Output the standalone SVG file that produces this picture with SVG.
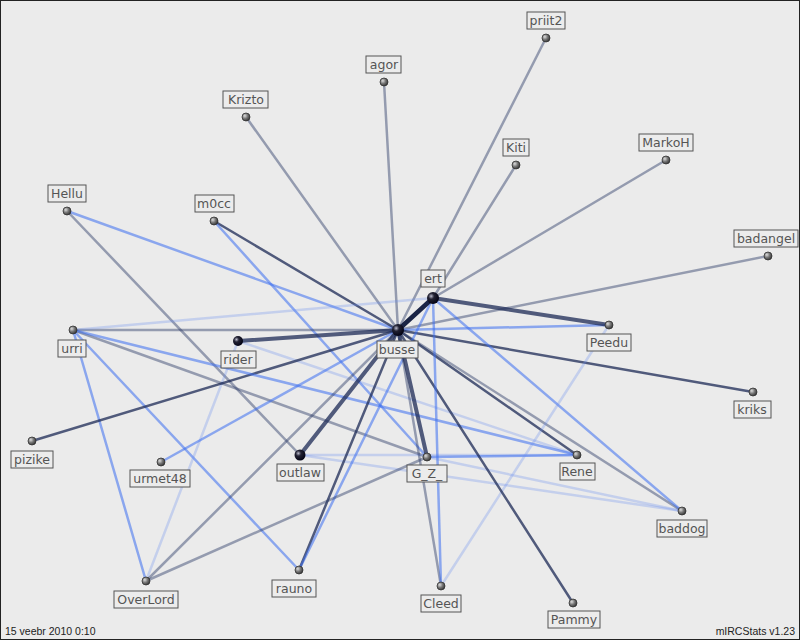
<svg xmlns="http://www.w3.org/2000/svg" width="800" height="640" viewBox="0 0 800 640">
<defs>
<radialGradient id="gn" cx="0.35" cy="0.35" r="0.7"><stop offset="0" stop-color="#ddd"/><stop offset="0.5" stop-color="#777"/><stop offset="1" stop-color="#333"/></radialGradient>
<radialGradient id="gb" cx="0.35" cy="0.35" r="0.7"><stop offset="0" stop-color="#bbc"/><stop offset="0.35" stop-color="#223"/><stop offset="1" stop-color="#001"/></radialGradient>
</defs>
<style>
.e{fill:none;stroke-linecap:round}
.d{stroke:#1c2a55;stroke-width:2.5;opacity:.75}
.g{stroke:#2a3a66;stroke-width:2.5;opacity:.45}
.b{stroke:#3a6ef0;stroke-width:2.5;opacity:.55}
.l{stroke:#6a90f0;stroke-width:2.5;opacity:.3}
.t{stroke:#1a2445;stroke-width:4.5}
.n{fill:url(#gn);stroke:#333;stroke-width:.8}
.bn{fill:url(#gb)}
.lb{fill:#ececec;stroke:#555;stroke-width:1}
text{font-family:"DejaVu Sans",sans-serif;font-size:12.5px;fill:#555;text-anchor:middle}
.f{font-family:"Liberation Sans",sans-serif;font-size:10.5px;fill:#222}
</style>
<rect x="0.5" y="0.5" width="799" height="639" fill="#ebebeb" stroke="#222"/>
<g id="connectors">
<line class="e g" x1="546" y1="38" x2="398" y2="330"/>
<line class="e g" x1="384" y1="82" x2="398" y2="330"/>
<line class="e g" x1="246" y1="117" x2="398" y2="330"/>
<line class="e g" x1="516" y1="165" x2="433" y2="298"/>
<line class="e g" x1="666" y1="160" x2="433" y2="298"/>
<line class="e b" x1="67" y1="211" x2="398" y2="330"/>
<line class="e g" x1="67" y1="211" x2="300" y2="455"/>
<line class="e d" x1="214" y1="221" x2="398" y2="330"/>
<line class="e b" x1="214" y1="221" x2="427" y2="457"/>
<line class="e g" x1="768" y1="256" x2="398" y2="330"/>
<line class="e g" x1="73" y1="330" x2="398" y2="330"/>
<line class="e l" x1="73" y1="330" x2="433" y2="298"/>
<line class="e g" x1="73" y1="330" x2="427" y2="457"/>
<line class="e b" x1="73" y1="330" x2="299" y2="570"/>
<line class="e b" x1="73" y1="330" x2="146" y2="581"/>
<line class="e l" x1="238" y1="341" x2="577" y2="455"/>
<line class="e l" x1="238" y1="341" x2="146" y2="581"/>
<line class="e b" x1="398" y1="330" x2="609" y2="325"/>
<line class="e d" x1="398" y1="330" x2="753" y2="392"/>
<line class="e d" x1="32" y1="441" x2="398" y2="330"/>
<line class="e b" x1="161" y1="462" x2="398" y2="330"/>
<line class="e l" x1="300" y1="455" x2="577" y2="455"/>
<line class="e l" x1="300" y1="455" x2="682" y2="511"/>
<line class="e b" x1="427" y1="457" x2="577" y2="455"/>
<line class="e l" x1="427" y1="457" x2="682" y2="511"/>
<line class="e b" x1="73" y1="330" x2="577" y2="455"/>
<line class="e d" x1="398" y1="330" x2="577" y2="455"/>
<line class="e g" x1="398" y1="330" x2="682" y2="511"/>
<line class="e b" x1="433" y1="298" x2="682" y2="511"/>
<line class="e l" x1="609" y1="325" x2="441" y2="586"/>
<line class="e d" x1="398" y1="330" x2="573" y2="603"/>
<line class="e d" x1="398" y1="330" x2="299" y2="570"/>
<line class="e b" x1="433" y1="298" x2="299" y2="570"/>
<line class="e g" x1="398" y1="330" x2="146" y2="581"/>
<line class="e g" x1="146" y1="581" x2="427" y2="457"/>
<line class="e g" x1="398" y1="330" x2="441" y2="586"/>
<line class="e b" x1="433" y1="298" x2="441" y2="586"/>
<line class="e d" x1="398" y1="330" x2="300" y2="455" style="stroke-width:4"/>
<line class="e d" x1="398" y1="330" x2="427" y2="457" style="stroke-width:4"/>
<line class="e d" x1="398" y1="330" x2="238" y2="341" style="stroke-width:4"/>
<line class="e d" x1="433" y1="298" x2="609" y2="325" style="stroke-width:4"/>
<line class="e t" x1="398" y1="330" x2="433" y2="298"/>
</g>
<g id="priit2"><circle class="n" cx="546" cy="38" r="4"/><rect class="lb" x="527" y="12" width="38" height="17"/><text x="546" y="25">priit2</text></g>
<g id="agor"><circle class="n" cx="384" cy="82" r="4"/><rect class="lb" x="366" y="56" width="35" height="17"/><text x="384" y="69">agor</text></g>
<g id="Krizto"><circle class="n" cx="246" cy="117" r="4"/><rect class="lb" x="223" y="91" width="45" height="17"/><text x="246" y="104">Krizto</text></g>
<g id="Kiti"><circle class="n" cx="516" cy="165" r="4"/><rect class="lb" x="503" y="139" width="26" height="17"/><text x="516" y="152">Kiti</text></g>
<g id="MarkoH"><circle class="n" cx="666" cy="160" r="4"/><rect class="lb" x="639" y="134" width="54" height="17"/><text x="666" y="147">MarkoH</text></g>
<g id="Hellu"><circle class="n" cx="67" cy="211" r="4"/><rect class="lb" x="48" y="185" width="38" height="17"/><text x="67" y="198">Hellu</text></g>
<g id="m0cc"><circle class="n" cx="214" cy="221" r="4"/><rect class="lb" x="195" y="195" width="39" height="17"/><text x="214" y="208">m0cc</text></g>
<g id="badangel"><circle class="n" cx="768" cy="256" r="4"/><rect class="lb" x="734" y="230" width="64" height="17"/><text x="766" y="243">badangel</text></g>
<g id="ert"><circle class="bn" cx="433" cy="298" r="6"/><rect class="lb" x="421" y="270" width="24" height="17"/><text x="433" y="283">ert</text></g>
<g id="busse"><circle class="bn" cx="398" cy="330" r="6"/><rect class="lb" x="377" y="341" width="41" height="17"/><text x="397" y="354">busse</text></g>
<g id="urri"><circle class="n" cx="73" cy="330" r="4"/><rect class="lb" x="58" y="340" width="28" height="17"/><text x="72" y="353">urri</text></g>
<g id="rider"><circle class="bn" cx="238" cy="341" r="5"/><rect class="lb" x="221" y="351" width="35" height="17"/><text x="238" y="364">rider</text></g>
<g id="Peedu"><circle class="n" cx="609" cy="325" r="4"/><rect class="lb" x="587" y="334" width="44" height="17"/><text x="609" y="347">Peedu</text></g>
<g id="kriks"><circle class="n" cx="753" cy="392" r="4"/><rect class="lb" x="734" y="401" width="37" height="17"/><text x="752" y="414">kriks</text></g>
<g id="pizike"><circle class="n" cx="32" cy="441" r="4"/><rect class="lb" x="11" y="451" width="42" height="17"/><text x="32" y="464">pizike</text></g>
<g id="urmet48"><circle class="n" cx="161" cy="462" r="4"/><rect class="lb" x="130" y="470" width="60" height="17"/><text x="160" y="483">urmet48</text></g>
<g id="outlaw"><circle class="bn" cx="300" cy="455" r="5.5"/><rect class="lb" x="277" y="464" width="47" height="17"/><text x="300" y="477">outlaw</text></g>
<g id="G_Z_"><circle class="n" cx="427" cy="457" r="4"/><rect class="lb" x="407" y="465" width="40" height="17"/><text x="427" y="478">G_Z_</text></g>
<g id="Rene"><circle class="n" cx="577" cy="455" r="4"/><rect class="lb" x="560" y="463" width="35" height="17"/><text x="577" y="476">Rene</text></g>
<g id="baddog"><circle class="n" cx="682" cy="511" r="4"/><rect class="lb" x="657" y="520" width="50" height="17"/><text x="682" y="533">baddog</text></g>
<g id="OverLord"><circle class="n" cx="146" cy="581" r="4"/><rect class="lb" x="114" y="591" width="64" height="17"/><text x="146" y="604">OverLord</text></g>
<g id="rauno"><circle class="n" cx="299" cy="570" r="4"/><rect class="lb" x="272" y="580" width="44" height="17"/><text x="294" y="593">rauno</text></g>
<g id="Cleed"><circle class="n" cx="441" cy="586" r="4"/><rect class="lb" x="421" y="595" width="40" height="17"/><text x="441" y="608">Cleed</text></g>
<g id="Pammy"><circle class="n" cx="573" cy="603" r="4"/><rect class="lb" x="548" y="611" width="52" height="17"/><text x="574" y="624">Pammy</text></g>
<text class="f" x="5" y="635" style="text-anchor:start">15 veebr 2010 0:10</text>
<text class="f" x="795" y="635" style="text-anchor:end">mIRCStats v1.23</text>
</svg>
